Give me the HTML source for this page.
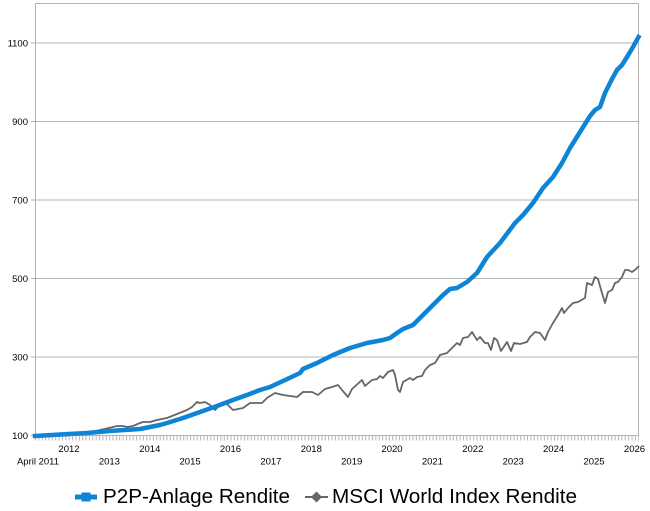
<!DOCTYPE html>
<html><head><meta charset="utf-8"><style>
html,body{margin:0;padding:0;background:#fff;}
svg{display:block;}
text{font-family:"Liberation Sans",Arial,sans-serif;fill:#000;}
</style></head><body>
<svg width="650" height="511" viewBox="0 0 650 511" xmlns="http://www.w3.org/2000/svg">
<defs>
<pattern id="tk" x="35" y="436" width="3.37" height="5" patternUnits="userSpaceOnUse">
<rect x="0" y="0" width="1" height="5" fill="#b3b3b3"/>
</pattern>
</defs>
<rect width="650" height="511" fill="#fff"/>
<g stroke="#b3b3b3" stroke-width="1" fill="none">
<line x1="31" y1="43" x2="638.5" y2="43"/>
<line x1="31" y1="121.5" x2="638.5" y2="121.5"/>
<line x1="31" y1="200" x2="638.5" y2="200"/>
<line x1="31" y1="278.5" x2="638.5" y2="278.5"/>
<line x1="31" y1="357" x2="638.5" y2="357"/>
<line x1="31" y1="435.5" x2="638.5" y2="435.5"/>
<line x1="35.5" y1="3.5" x2="638.5" y2="3.5"/>
<line x1="35.5" y1="3.5" x2="35.5" y2="436"/>
<line x1="638.5" y1="3.5" x2="638.5" y2="436"/>
</g>
<rect x="35" y="436" width="604" height="4.5" fill="url(#tk)"/>
<g font-size="9.5" text-anchor="end">
<text x="28" y="46.5">1100</text>
<text x="28" y="125">900</text>
<text x="28" y="203.5">700</text>
<text x="28" y="282">500</text>
<text x="28" y="360.5">300</text>
<text x="28" y="439">100</text>
</g>
<g font-size="9.5" text-anchor="middle">
<text x="38" y="464.5">April 2011</text>
<text x="69" y="452">2012</text>
<text x="109.4" y="464.5">2013</text>
<text x="149.8" y="452">2014</text>
<text x="190.1" y="464.5">2015</text>
<text x="230.5" y="452">2016</text>
<text x="270.9" y="464.5">2017</text>
<text x="311.3" y="452">2018</text>
<text x="351.7" y="464.5">2019</text>
<text x="392" y="452">2020</text>
<text x="432.4" y="464.5">2021</text>
<text x="472.8" y="452">2022</text>
<text x="513.2" y="464.5">2023</text>
<text x="553.6" y="452">2024</text>
<text x="594" y="464.5">2025</text>
<text x="634.5" y="452">2026</text>
</g>
<polyline fill="none" stroke="#666" stroke-width="1.8" stroke-linejoin="round" points="35,436 50,436 67,435.5 87,433 100,430 113,427 117,426 123,426 127,427 133,426 140,423 143,422 150,422 157,420 167,418 177,414 187,410 192,407 197,402 200,403 205,402 210,405 215,410 218,407 223,402 228,405 233,410 243,408 250,403 262,403 267,398 275,393 283,395 297,397 303,392 312,392 318,395 325,389 332,387 338,385 342,390 348,397 352,389 362,380 365,386 372,380 377,379 380,376 383,378 388,372 393,370 395,375 398,390 400,392 403,382 410,378 413,380 417,377 422,376 425,370 430,365 435,363 440,355 447,353 452,348 457,343 460,345 463,338 468,337 472,332 477,340 480,337 485,343 488,343 491,350 494,338 497,340 501,351 507,342 511,351 514,343 520,344 527,342 530,337 535,332 540,333 545,340 548,332 553,323 558,315 562,308 564,313 568,308 573,303 578,302 585,298 587,283 592,285 595,277 598,279 602,293 605,303 608,292 612,290 615,283 618,282 622,277 625,270 628,270 632,272 635,270 639,266"/>
<polyline fill="none" stroke="#0d84d6" stroke-width="4.5" stroke-linejoin="round" stroke-linecap="square" points="35,436 60,434.5 87,433 110,431 140,429 160,425 167,423 183,418 200,412 217,406 233,400 247,395 260,390 270,387 283,381 300,373 303,369 317,363 333,355 350,348 367,343 383,340 390,338 397,333 403,329 413,325 420,318 430,308 443,295 450,289 457,288 467,282 477,273 487,257 500,243 515,223 523,215 533,203 543,188 553,177 562,163 570,148 580,132 590,116 595,110 600,107 605,93 612,79 617,70 622,65 627,57 633,47 638.5,37"/>
<line x1="75" y1="497" x2="97" y2="497" stroke="#0d84d6" stroke-width="5"/>
<rect x="81.5" y="492.5" width="9" height="9" fill="#0d84d6"/>
<text x="103" y="503" font-size="20.5" textLength="187" lengthAdjust="spacingAndGlyphs" fill="#1a1a1a">P2P-Anlage Rendite</text>
<line x1="305" y1="497" x2="328" y2="497" stroke="#666" stroke-width="2"/>
<polygon points="316.5,491.5 322,497 316.5,502.5 311,497" fill="#666"/>
<text x="332" y="503" font-size="20.5" textLength="245" lengthAdjust="spacingAndGlyphs" fill="#1a1a1a">MSCI World Index Rendite</text>
</svg>
</body></html>
